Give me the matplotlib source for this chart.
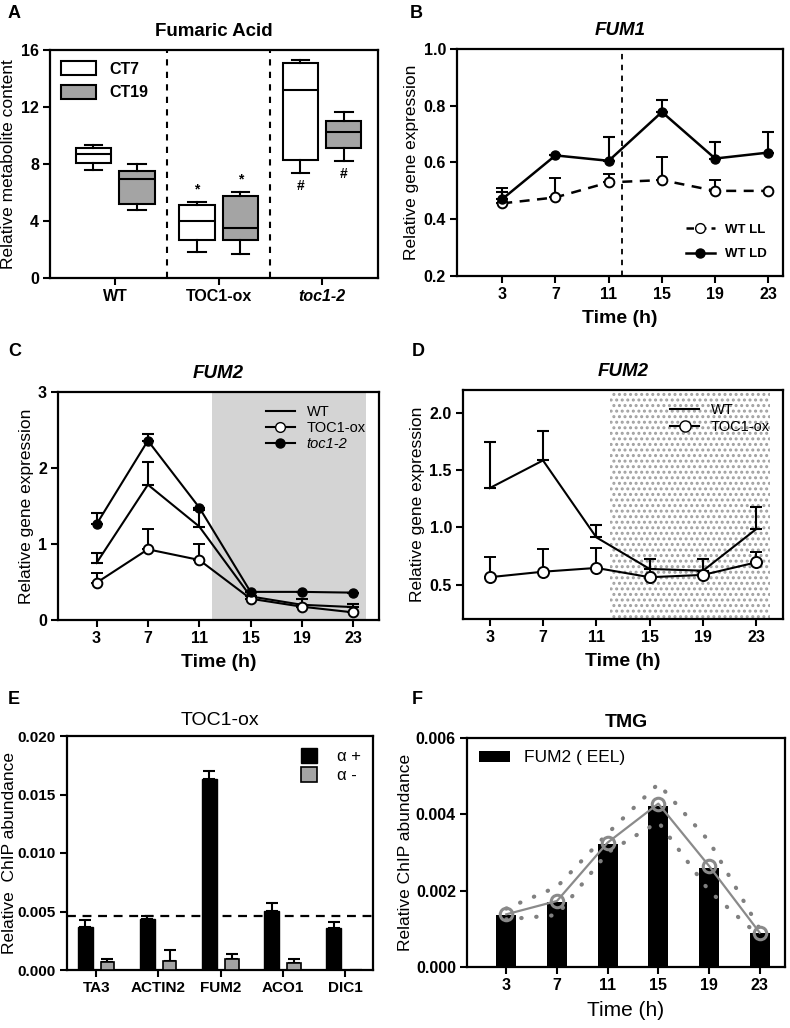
# Fumarate / FUM2 figure: boxplots, time courses and ChIP bars in six panels

import matplotlib
matplotlib.use('Agg')
import matplotlib.pyplot as plt
from matplotlib.patches import Patch
from matplotlib.lines import Line2D
import numpy as np

plt.rcParams['font.family'] = ['Liberation Sans', 'DejaVu Sans']
plt.rcParams['hatch.linewidth'] = 1.4

OUT_FILE = "out.png"

# ---- panel A: fumaric acid boxplots ----
box_groups = ['WT', 'TOC1-ox', 'toc1-2']
ct7_whislo = [7.56, 1.83, 7.38]
ct7_q1 = [8.08, 2.69, 8.31]
ct7_med = [8.69, 3.98, 13.18]
ct7_q3 = [9.09, 5.10, 15.10]
ct7_whishi = [9.32, 5.34, 15.29]
ct19_whislo = [4.75, 1.66, 8.20]
ct19_q1 = [5.18, 2.69, 9.09]
ct19_med = [6.98, 3.51, 10.26]
ct19_q3 = [7.52, 5.78, 11.00]
ct19_whishi = [8.03, 6.00, 11.66]
star_groups = [1]     # "*" above both boxes
hash_groups = [2]     # "#" below both boxes

# ---- shared time axis ----
hours = [3, 7, 11, 15, 19, 23]

# ---- panel B: FUM1 ----
fum1_ll = [0.456, 0.477, 0.530, 0.538, 0.500, 0.500]
fum1_ll_err = [0.053, 0.067, 0.030, 0.080, 0.038, 0.0]
fum1_ld = [0.471, 0.625, 0.606, 0.778, 0.614, 0.635]
fum1_ld_err = [0.026, 0.0, 0.084, 0.044, 0.058, 0.072]

# ---- panel C: FUM2 in three genotypes ----
fum2_wt = [0.75, 1.78, 1.23, 0.31, 0.20, 0.17]
fum2_wt_err = [0.13, 0.30, 0.22, 0.0, 0.08, 0.04]
fum2_ox = [0.49, 0.93, 0.79, 0.28, 0.175, 0.10]
fum2_ox_err = [0.13, 0.27, 0.21, 0.0, 0.0, 0.0]
fum2_toc = [1.26, 2.36, 1.48, 0.37, 0.37, 0.36]
fum2_toc_err = [0.15, 0.09, 0.0, 0.0, 0.0, 0.0]

# ---- panel D: FUM2 WT vs TOC1-ox ----
d_wt = [1.343, 1.585, 0.913, 0.637, 0.622, 0.986]
d_wt_err = [0.40, 0.257, 0.105, 0.087, 0.10, 0.19]
d_ox = [0.565, 0.613, 0.646, 0.565, 0.585, 0.695]
d_ox_err = [0.18, 0.20, 0.17, 0.16, 0.14, 0.087]

# ---- panel E: ChIP in TOC1-ox ----
genes = ['TA3', 'ACTIN2', 'FUM2', 'ACO1', 'DIC1']
alpha_pos = [0.00369, 0.00436, 0.0163, 0.00507, 0.00362]
alpha_pos_err = [0.00059, 0.00024, 0.0007, 0.00063, 0.00048]
alpha_neg = [0.00067, 0.00078, 0.00094, 0.00062, 0.00003]
alpha_neg_err = [0.00026, 0.0009, 0.00043, 0.00035, 0.0]
chip_threshold = 0.0046

# ---- panel F: TMG ChIP time course ----
tmg_bar = [0.00136, 0.00171, 0.00322, 0.00422, 0.00259, 0.00088]
tmg_line = [0.00138, 0.00173, 0.00326, 0.00428, 0.00265, 0.00090]
tmg_upper = [0.00153, 0.0021, 0.0035, 0.0048, 0.0033, 0.0010]
tmg_lower = [0.00125, 0.00136, 0.0030, 0.0038, 0.0020, 0.0008]

W, H = 790, 1028
GRAY = '#a4a4a4'
YLAB_SIZE = 12.5


def axes_px(fig, left, top, right, bottom):
    # place an axes from pixel edges of the reference image
    return fig.add_axes([left / W, 1 - bottom / H, (right - left) / W, (bottom - top) / H])


def style_axes(ax, labelsize=11.5):
    for s in ax.spines.values():
        s.set_linewidth(1.6)
    ax.tick_params(direction='out', length=5, width=1.5, labelsize=labelsize, pad=3)
    for lab in ax.get_xticklabels() + ax.get_yticklabels():
        lab.set_fontweight('bold')


def time_axis(ax, label_weight='bold'):
    ax.set_xticks(hours)
    ax.set_xlabel('Time (h)', fontsize=14, fontweight=label_weight, labelpad=6)


def up_err(ax, x, y, err, **kw):
    ax.errorbar(x, y, yerr=[np.zeros(len(err)), err], capsize=4, capthick=1.5,
                elinewidth=1.5, **kw)


def panel_label(fig, x, y, s):
    fig.text(x / W, 1 - y / H, s, fontsize=13, fontweight='bold', ha='left', va='center')


def main():
    fig = plt.figure(figsize=(W / 100, H / 100), dpi=100)

    # ---------------- A ----------------
    ax = axes_px(fig, 50, 50, 378, 278)
    off = 0.21
    stats7, stats19 = [], []
    for i in range(len(box_groups)):
        stats7.append(dict(whislo=ct7_whislo[i], q1=ct7_q1[i], med=ct7_med[i],
                           q3=ct7_q3[i], whishi=ct7_whishi[i], fliers=[]))
        stats19.append(dict(whislo=ct19_whislo[i], q1=ct19_q1[i], med=ct19_med[i],
                            q3=ct19_q3[i], whishi=ct19_whishi[i], fliers=[]))
    pos = np.arange(len(box_groups))
    common = dict(widths=0.34, patch_artist=True, showfliers=False,
                  whiskerprops=dict(linewidth=1.5), capprops=dict(linewidth=1.5),
                  medianprops=dict(color='black', linewidth=1.5))
    ax.bxp(stats7, positions=pos - off, boxprops=dict(facecolor='white', linewidth=1.5), **common)
    ax.bxp(stats19, positions=pos + off, boxprops=dict(facecolor=GRAY, linewidth=1.5), **common)
    for xd in [0.5, 1.5]:
        ax.axvline(xd, color='black', linestyle='--', linewidth=1.5, dashes=(3, 3))
    for g in star_groups:
        ax.text(g - off, ct7_whishi[g] + 0.9, '*', ha='center', va='center', fontsize=10, fontweight='bold')
        ax.text(g + off, ct19_whishi[g] + 0.9, '*', ha='center', va='center', fontsize=10, fontweight='bold')
    for g in hash_groups:
        ax.text(g - off, ct7_whislo[g] - 0.9, '#', ha='center', va='center', fontsize=10, fontweight='bold')
        ax.text(g + off, ct19_whislo[g] - 0.9, '#', ha='center', va='center', fontsize=10, fontweight='bold')
    ax.set_xlim(-0.63, 2.54)
    ax.set_ylim(0, 16)
    ax.set_yticks([0, 4, 8, 12, 16])
    ax.set_xticks(pos)
    ax.set_xticklabels(box_groups)
    ax.set_ylabel('Relative metabolite content', fontsize=YLAB_SIZE)
    ax.yaxis.set_label_coords(-0.105, 0.5)
    ax.set_title('Fumaric Acid', fontsize=13.5, fontweight='bold', pad=10)
    style_axes(ax)
    ax.get_xticklabels()[2].set_style('italic')
    ax.legend(handles=[Patch(facecolor='white', edgecolor='black', linewidth=1.5, label='CT7'),
                       Patch(facecolor=GRAY, edgecolor='black', linewidth=1.5, label='CT19')],
              loc='upper left', frameon=False, prop=dict(size=11.5, weight='bold'),
              handlelength=2.2, handleheight=1.0, borderaxespad=0.3, labelspacing=0.5)

    # ---------------- B ----------------
    ax = axes_px(fig, 457, 49, 783, 276)
    up_err(ax, hours, fum1_ll, fum1_ll_err, color='black', linestyle=(0, (4, 3)), linewidth=1.8,
           marker='o', markersize=7, markerfacecolor='white', markeredgewidth=1.4, zorder=3)
    up_err(ax, hours, fum1_ld, fum1_ld_err, color='black', linestyle='-', linewidth=1.8,
           marker='o', markersize=6.5, markerfacecolor='black', zorder=4)
    ax.axvline(12, color='black', linestyle='--', linewidth=1.3, dashes=(3, 3))
    ax.set_xlim(-0.4, 24.1)
    ax.set_ylim(0.2, 1.0)
    ax.set_yticks([0.2, 0.4, 0.6, 0.8, 1.0])
    time_axis(ax)
    ax.set_ylabel('Relative gene expression', fontsize=YLAB_SIZE, labelpad=3)
    ax.set_title('FUM1', fontsize=13.5, fontweight='bold', style='italic', pad=10)
    style_axes(ax)
    ax.legend(handles=[Line2D([], [], color='black', linestyle=(0, (3, 2)), linewidth=1.8, marker='o',
                              markerfacecolor='white', markersize=7, label='WT LL'),
                       Line2D([], [], color='black', linewidth=1.8, marker='o', markersize=6.5,
                              label='WT LD')],
              loc='lower right', frameon=False, prop=dict(size=9.5, weight='bold'),
              handlelength=2.2, borderaxespad=0.8, labelspacing=0.9)

    # ---------------- C ----------------
    ax = axes_px(fig, 58, 392, 379, 620)
    ax.axvspan(12, 24, color='#d4d4d4', linewidth=0, zorder=0)
    up_err(ax, hours, fum2_wt, fum2_wt_err, color='black', linewidth=1.5, zorder=3)
    up_err(ax, hours, fum2_ox, fum2_ox_err, color='black', linewidth=1.5, marker='o', markersize=7,
           markerfacecolor='white', markeredgewidth=1.4, zorder=4)
    up_err(ax, hours, fum2_toc, fum2_toc_err, color='black', linewidth=1.5, marker='o', markersize=6.5,
           markerfacecolor='black', zorder=5)
    ax.set_xlim(0, 25)
    ax.set_ylim(0, 3)
    ax.set_yticks([0, 1, 2, 3])
    time_axis(ax)
    ax.set_ylabel('Relative gene expression', fontsize=YLAB_SIZE, labelpad=3)
    ax.set_title('FUM2', fontsize=13.5, fontweight='bold', style='italic', pad=10)
    style_axes(ax)
    leg = ax.legend(handles=[Line2D([], [], color='black', linewidth=1.5, label='WT'),
                             Line2D([], [], color='black', linewidth=1.5, marker='o', markersize=7,
                                    markerfacecolor='white', label='TOC1-ox'),
                             Line2D([], [], color='black', linewidth=1.5, marker='o', markersize=6.5,
                                    label='toc1-2')],
                    loc='upper right', frameon=False, prop=dict(size=10.5),
                    handlelength=2.0, borderaxespad=0.5, labelspacing=0.15)
    leg.get_texts()[2].set_style('italic')

    # ---------------- D ----------------
    ax = axes_px(fig, 463, 390, 783, 619)
    ax.axvspan(12, 24, facecolor='white', edgecolor='#a0a0a0', hatch='...', linewidth=0, zorder=0)
    up_err(ax, hours, d_wt, d_wt_err, color='black', linewidth=1.5, zorder=3)
    up_err(ax, hours, d_ox, d_ox_err, color='black', linewidth=1.5, marker='o', markersize=8,
           markerfacecolor='white', markeredgewidth=1.4, zorder=4)
    ax.set_xlim(1, 25)
    ax.set_ylim(0.2, 2.2)
    ax.set_yticks([0.5, 1.0, 1.5, 2.0])
    time_axis(ax)
    ax.set_ylabel('Relative gene expression', fontsize=YLAB_SIZE, labelpad=3)
    ax.set_title('FUM2', fontsize=13.5, fontweight='bold', style='italic', pad=10)
    style_axes(ax)
    ax.legend(handles=[Line2D([], [], color='black', linewidth=1.5, label='WT'),
                       Line2D([], [], color='black', linewidth=1.5, marker='o', markersize=8,
                              markerfacecolor='white', label='TOC1-ox')],
              loc='upper right', frameon=False, prop=dict(size=10.5),
              handlelength=2.0, borderaxespad=0.5, labelspacing=0.2)

    # ---------------- E ----------------
    ax = axes_px(fig, 67, 736, 373, 970)
    gx = np.arange(len(genes))
    ax.bar(gx - 0.18, alpha_pos, width=0.24, color='black', edgecolor='black', zorder=3)
    ax.bar(gx + 0.18, alpha_neg, width=0.22, color=GRAY, edgecolor='black', linewidth=1.2, zorder=3)
    up_err(ax, gx - 0.18, alpha_pos, alpha_pos_err, color='black', linestyle='none', zorder=2)
    up_err(ax, gx + 0.18, alpha_neg, alpha_neg_err, color='black', linestyle='none', zorder=2)
    ax.axhline(chip_threshold, color='black', linestyle='--', linewidth=1.6, dashes=(4, 3), zorder=4)
    ax.set_xlim(-0.47, 4.45)
    ax.set_ylim(0, 0.020)
    ax.set_yticks([0, 0.005, 0.010, 0.015, 0.020])
    ax.set_yticklabels(['0.000', '0.005', '0.010', '0.015', '0.020'])
    ax.set_xticks(gx)
    ax.set_xticklabels(genes)
    ax.set_ylabel('Relative  ChIP abundance', fontsize=YLAB_SIZE)
    ax.yaxis.set_label_coords(-0.165, 0.5)
    ax.set_title('TOC1-ox', fontsize=14, pad=8)
    style_axes(ax, labelsize=11)
    ax.legend(handles=[Patch(facecolor='black', edgecolor='black', label='α +'),
                       Patch(facecolor=GRAY, edgecolor='black', linewidth=1.2, label='α -')],
              loc='upper right', frameon=False, prop=dict(size=12),
              handlelength=1.0, handleheight=1.0, borderaxespad=0.3, labelspacing=0.2,
              handletextpad=1.2)

    # ---------------- F ----------------
    ax = axes_px(fig, 467, 738, 785, 967)
    ax.bar(hours, tmg_bar, width=1.58, color='black', zorder=2, label='FUM2 ( EEL)')
    ax.plot(hours, tmg_upper, color='#808080', linestyle=(0, (0.1, 3.5)), linewidth=3,
            dash_capstyle='round', zorder=3)
    ax.plot(hours, tmg_lower, color='#808080', linestyle=(0, (0.1, 3.5)), linewidth=3,
            dash_capstyle='round', zorder=3)
    ax.plot(hours, tmg_line, color='#8a8a8a', linewidth=1.6, marker='o', markersize=9,
            markerfacecolor='none', markeredgewidth=2.2, zorder=4)
    ax.set_xlim(-0.1, 25)
    ax.set_ylim(0, 0.006)
    ax.set_yticks([0, 0.002, 0.004, 0.006])
    ax.set_yticklabels(['0.000', '0.002', '0.004', '0.006'])
    time_axis(ax, label_weight='normal')
    ax.xaxis.label.set_fontsize(15)
    ax.set_ylabel('Relative ChIP abundance', fontsize=YLAB_SIZE, labelpad=2)
    ax.set_title('TMG', fontsize=14, fontweight='bold', pad=8)
    style_axes(ax)
    ax.legend(loc='upper left', frameon=False, prop=dict(size=12.5),
              handlelength=1.8, handleheight=0.6, borderaxespad=0.3)

    for x, y, s in [(8, 14, 'A'), (410, 14, 'B'), (8, 352, 'C'), (412, 352, 'D'),
                    (8, 700, 'E'), (412, 700, 'F')]:
        panel_label(fig, x, y, s)

    fig.savefig(OUT_FILE, dpi=100)
    plt.close(fig)


if __name__ == "__main__":
    main()
